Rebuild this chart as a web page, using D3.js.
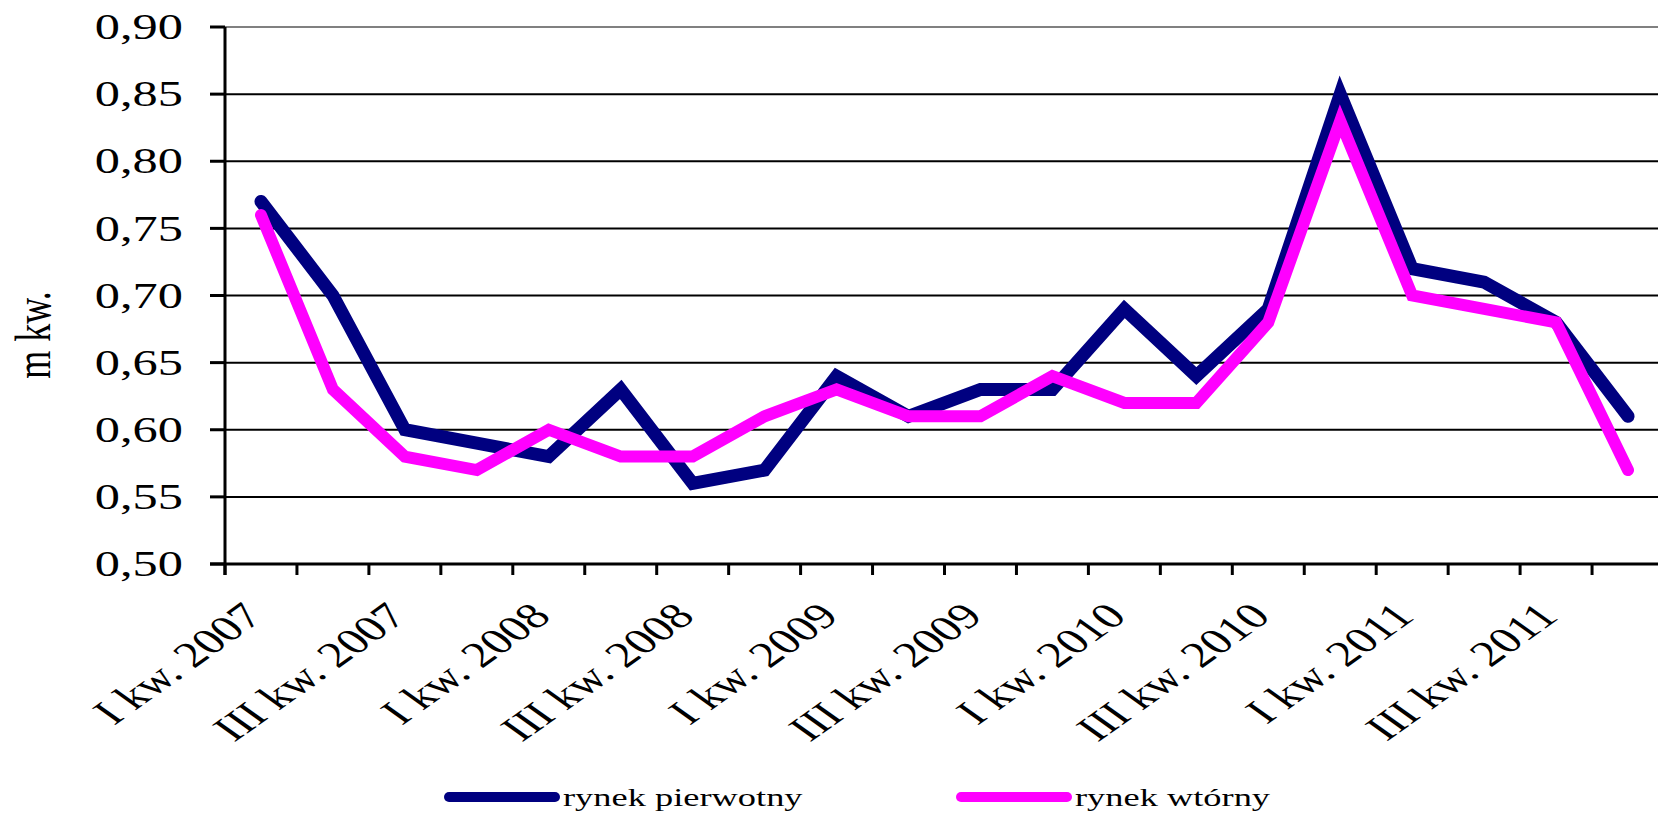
<!DOCTYPE html>
<html>
<head>
<meta charset="utf-8">
<script src="https://cdn.jsdelivr.net/npm/d3@7"></script>
<style>
    body { margin: 0; background: #fff; }
    text { font-family: "Liberation Serif", "Times New Roman", serif; fill: #000; }
</style>
</head>
<body>
<div id="chart"></div>
<script>

// quarters I kw. 2007 .. IV kw. 2011
let roman = ["I", "II", "III", "IV"];
let years = [2007, 2008, 2009, 2010, 2011];
let categories = [];
years.forEach(y => roman.forEach(r => categories.push(r + " kw. " + y)));

let pierwotny = [0.77, 0.70, 0.60, 0.59, 0.58, 0.63, 0.56, 0.57, 0.64, 0.61,
                 0.63, 0.63, 0.69, 0.64, 0.69, 0.85, 0.72, 0.71, 0.68, 0.61];
let wtorny    = [0.76, 0.63, 0.58, 0.57, 0.60, 0.58, 0.58, 0.61, 0.63, 0.61,
                 0.61, 0.64, 0.62, 0.62, 0.68, 0.83, 0.70, 0.69, 0.68, 0.57];

let yTicks = [0.50, 0.55, 0.60, 0.65, 0.70, 0.75, 0.80, 0.85, 0.90];

let seriesNames = ["rynek pierwotny", "rynek wtórny"];
let seriesColors = ["#000080", "#ff00ff"];

// the original picture is stretched horizontally, text too
let stretch = 1.4;

let width = 1658, height = 815;
let plot = {left: 225, right: 1664, top: 27, bottom: 564};

let svg = d3.select("#chart").append("svg")
    .attr("width", width)
    .attr("height", height);

let x = d3.scaleBand()
    .domain(categories)
    .range([plot.left, plot.right]);

let y = d3.scaleLinear()
    .domain([0.5, 0.9])
    .range([plot.bottom, plot.top]);

let fmt = d => d3.format(".2f")(d).replace(".", ",");

// gridlines
svg.append("g")
    .selectAll("line")
    .data(yTicks.slice(1))
    .join("line")
    .attr("x1", plot.left)
    .attr("x2", plot.right)
    .attr("y1", d => y(d))
    .attr("y2", d => y(d))
    .attr("stroke", (d, i) => i === yTicks.length - 2 ? "#808080" : "#000")
    .attr("stroke-width", 2);

// y axis
svg.append("line")
    .attr("x1", plot.left).attr("x2", plot.left)
    .attr("y1", plot.top).attr("y2", plot.bottom + 11)
    .attr("stroke", "#000").attr("stroke-width", 3);

svg.append("g")
    .selectAll("line")
    .data(yTicks)
    .join("line")
    .attr("x1", plot.left - 15)
    .attr("x2", plot.left)
    .attr("y1", d => y(d))
    .attr("y2", d => y(d))
    .attr("stroke", "#000")
    .attr("stroke-width", 3);

svg.append("g")
    .selectAll("text")
    .data(yTicks)
    .join("text")
    .attr("transform", d => `translate(183, ${y(d)}) scale(${stretch}, 1)`)
    .attr("dy", "0.34em")
    .attr("text-anchor", "end")
    .style("font-size", "36px")
    .text(fmt);

svg.append("text")
    .attr("transform", `translate(50, 335) scale(${stretch}, 1) rotate(-90)`)
    .attr("text-anchor", "middle")
    .style("font-size", "36px")
    .text("m kw.");

// x axis
svg.append("line")
    .attr("x1", plot.left - 15).attr("x2", plot.right)
    .attr("y1", plot.bottom).attr("y2", plot.bottom)
    .attr("stroke", "#000").attr("stroke-width", 3);

let edges = categories.map(c => x(c)).concat([plot.right]);
svg.append("g")
    .selectAll("line")
    .data(edges)
    .join("line")
    .attr("x1", d => d).attr("x2", d => d)
    .attr("y1", plot.bottom)
    .attr("y2", plot.bottom + 11)
    .attr("stroke", "#000")
    .attr("stroke-width", 3);

svg.append("g")
    .selectAll("text")
    .data(categories.filter((c, i) => i % 2 === 0))
    .join("text")
    .attr("transform", d => `translate(${x(d) + x.bandwidth() / 2 + 4}, ${plot.bottom + 54}) scale(${stretch}, 1) rotate(-45)`)
    .attr("text-anchor", "end")
    .style("font-size", "36px")
    .text(d => d);

// lines
let line = d3.line()
    .x((d, i) => x(categories[i]) + x.bandwidth() / 2)
    .y(d => y(d));

[pierwotny, wtorny].forEach((s, k) => {
    svg.append("path")
        .datum(s)
        .attr("d", line)
        .attr("fill", "none")
        .attr("stroke", seriesColors[k])
        .attr("stroke-width", k === 0 ? 13 : 12)
        .attr("stroke-linecap", "round")
        .attr("stroke-linejoin", "miter");
});

// legend
let legendX = [449, 961];
seriesNames.forEach((name, k) => {
    let g = svg.append("g").attr("transform", `translate(${legendX[k]}, 797)`);
    g.append("line")
        .attr("x1", 0).attr("x2", 106)
        .attr("stroke", seriesColors[k])
        .attr("stroke-width", 10)
        .attr("stroke-linecap", "round");
    g.append("text")
        .attr("transform", `translate(114, 0) scale(${stretch}, 1)`)
        .attr("dy", "0.35em")
        .style("font-size", "26px")
        .text(name);
});

</script>
</body>
</html>
